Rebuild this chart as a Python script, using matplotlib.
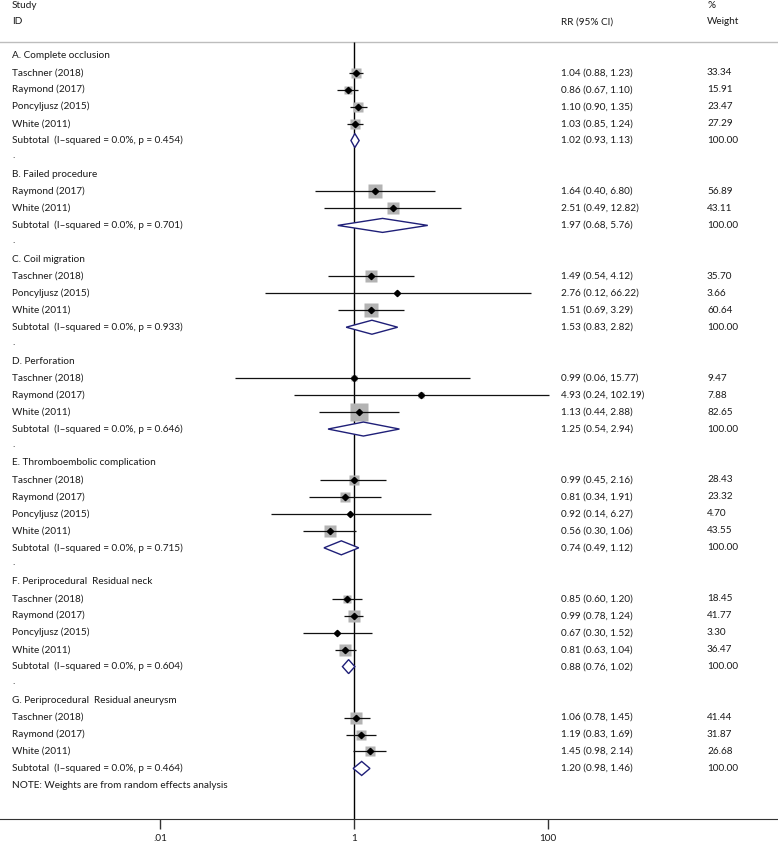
import numpy as np
import matplotlib
matplotlib.use("Agg")
import matplotlib.pyplot as plt

plt.rcParams["font.family"] = ["Lato", "DejaVu Sans"]

# subgroup data
group_labels = [
    "A. Complete occlusion",
    "B. Failed procedure",
    "C. Coil migration",
    "D. Perforation",
    "E. Thromboembolic complication",
    "F. Periprocedural  Residual neck",
    "G. Periprocedural  Residual aneurysm",
]
group_p = ["0.454", "0.701", "0.933", "0.646", "0.715", "0.604", "0.464"]
sub_rr = [1.02, 1.97, 1.53, 1.25, 0.74, 0.88, 1.20]
sub_lo = [0.93, 0.68, 0.83, 0.54, 0.49, 0.76, 0.98]
sub_hi = [1.13, 5.76, 2.82, 2.94, 1.12, 1.02, 1.46]

# study data
study_group = [0, 0, 0, 0, 1, 1, 2, 2, 2, 3, 3, 3, 4, 4, 4, 4, 5, 5, 5, 5, 6, 6, 6]
study_names = [
    "Taschner (2018)", "Raymond (2017)", "Poncyljusz (2015)", "White (2011)",
    "Raymond (2017)", "White (2011)",
    "Taschner (2018)", "Poncyljusz (2015)", "White (2011)",
    "Taschner (2018)", "Raymond (2017)", "White (2011)",
    "Taschner (2018)", "Raymond (2017)", "Poncyljusz (2015)", "White (2011)",
    "Taschner (2018)", "Raymond (2017)", "Poncyljusz (2015)", "White (2011)",
    "Taschner (2018)", "Raymond (2017)", "White (2011)",
]
study_rr = [1.04, 0.86, 1.10, 1.03, 1.64, 2.51, 1.49, 2.76, 1.51, 0.99, 4.93, 1.13,
            0.99, 0.81, 0.92, 0.56, 0.85, 0.99, 0.67, 0.81, 1.06, 1.19, 1.45]
study_lo = [0.88, 0.67, 0.90, 0.85, 0.40, 0.49, 0.54, 0.12, 0.69, 0.06, 0.24, 0.44,
            0.45, 0.34, 0.14, 0.30, 0.60, 0.78, 0.30, 0.63, 0.78, 0.83, 0.98]
study_hi = [1.23, 1.10, 1.35, 1.24, 6.80, 12.82, 4.12, 66.22, 3.29, 15.77, 102.19, 2.88,
            2.16, 1.91, 6.27, 1.06, 1.20, 1.24, 1.52, 1.04, 1.45, 1.69, 2.14]
study_weight = [33.34, 15.91, 23.47, 27.29, 56.89, 43.11, 35.70, 3.66, 60.64,
                9.47, 7.88, 82.65, 28.43, 23.32, 4.70, 43.55, 18.45, 41.77, 3.30,
                36.47, 41.44, 31.87, 26.68]

xticks = [0.01, 1, 100]
xtick_labels = [".01", "1", "100"]

W, H = 778, 844
AX_BOTTOM = 819
fig = plt.figure(figsize=(W / 100, H / 100), dpi=100)
ax = fig.add_axes([0, (H - AX_BOTTOM) / H, 1, AX_BOTTOM / H])
ax.set_ylim(AX_BOTTOM, 0)
ax.set_xscale("log")
ax.set_xlim(10 ** (-354 / 97), 10 ** ((W - 354) / 97))

tc = "#1a1a1a"
fs = 7.2
tr = ax.get_yaxis_transform()
col_id, col_rr, col_w = 12 / W, 561 / W, 707 / W

def put(col, y, s):
    ax.text(col, y, s, transform=tr, fontsize=fs, color=tc, va="center", ha="left")

# header
put(col_id, 6, "Study")
put(col_id, 22, "ID")
put(col_rr, 22, "RR (95% CI)")
put(col_w, 6, "%")
put(col_w, 22, "Weight")
ax.axhline(42, color="#bdbdbd", lw=1)
ax.vlines(1, 42, AX_BOTTOM, color="black", lw=1)

y0, dy = 55.7, 16.97
row = 0
for g, label in enumerate(group_labels):
    put(col_id, y0 + row * dy, label)
    row += 1
    idx = [i for i, sg in enumerate(study_group) if sg == g]
    for i in idx:
        y = y0 + row * dy
        put(col_id, y, study_names[i])
        put(col_rr, y, f"{study_rr[i]:.2f} ({study_lo[i]:.2f}, {study_hi[i]:.2f})")
        put(col_w, y, f"{study_weight[i]:.2f}")
        side = 1.87 * np.sqrt(study_weight[i]) * 0.72
        ax.plot(study_rr[i], y, marker="s", ms=side, color="#b3b3b3", mec="none", zorder=2)
        ax.hlines(y, study_lo[i], study_hi[i], color="#111111", lw=0.9, zorder=3)
        ax.plot(study_rr[i], y, marker="D", ms=3.2, color="black", zorder=4)
        row += 1
    y = y0 + row * dy
    put(col_id, y, f"Subtotal  (I\u2013squared = 0.0%, p = {group_p[g]})")
    put(col_rr, y, f"{sub_rr[g]:.2f} ({sub_lo[g]:.2f}, {sub_hi[g]:.2f})")
    put(col_w, y, "100.00")
    ax.fill([sub_lo[g], sub_rr[g], sub_hi[g], sub_rr[g]], [y, y - 7, y, y + 7],
            facecolor="white", edgecolor="#1f1f78", lw=1, zorder=3)
    row += 1
    if g < len(group_labels) - 1:
        put(col_id, y0 + row * dy - 2, ".")
        row += 1

put(col_id, y0 + row * dy, "NOTE: Weights are from random effects analysis")

for s in ["top", "left", "right"]:
    ax.spines[s].set_visible(False)
ax.spines["bottom"].set_color("#333333")
ax.set_yticks([])
ax.set_xticks(xticks)
ax.set_xticklabels(xtick_labels)
ax.minorticks_off()
ax.tick_params(axis="x", direction="out", length=7, width=1, colors="#333333",
               labelsize=fs, labelcolor=tc, pad=4)

fig.savefig("out.png", dpi=100)
